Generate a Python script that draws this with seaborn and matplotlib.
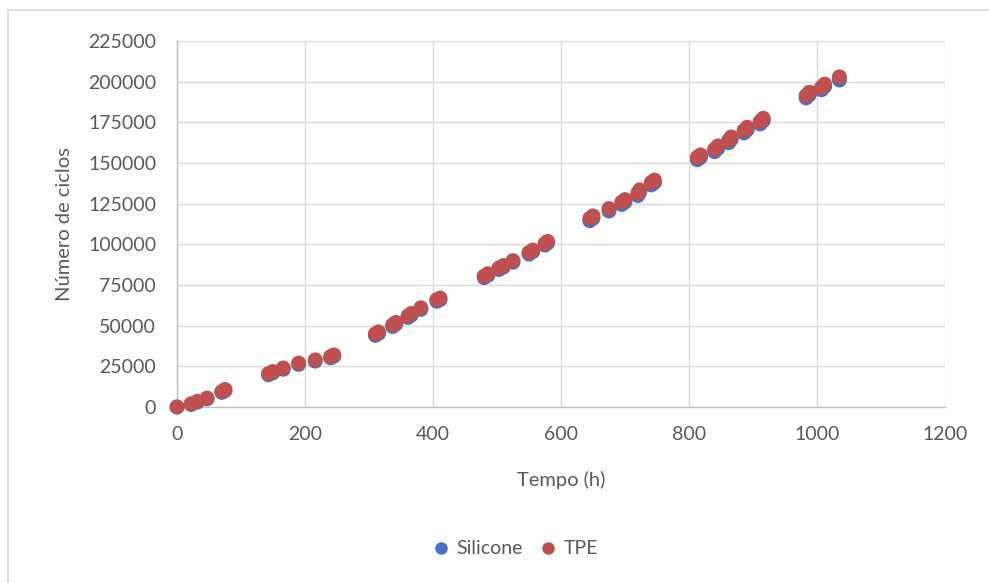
import matplotlib
matplotlib.use("Agg")
import matplotlib.pyplot as plt
import seaborn as sns
import pandas as pd
from matplotlib.patches import Rectangle
from matplotlib.lines import Line2D

tempo = [0, 22, 32, 47, 70, 75,
         143, 150, 166, 190, 216, 240, 245,
         310, 315, 337, 342, 361, 366, 381, 406, 411,
         480, 486, 503, 510, 525, 550, 556, 575, 579,
         645, 650, 675, 695, 700, 720, 723, 741, 746,
         813, 818, 840, 845, 862, 866, 886, 891, 911, 916,
         983, 988, 1007, 1012, 1035]
tpe = [0, 2000, 3500, 5500, 9500, 10800,
       20500, 21800, 24000, 27000, 29000, 31000, 32000,
       45000, 46200, 50500, 52000, 56000, 57500, 61000, 66000, 67000,
       80500, 82000, 85500, 87000, 90000, 95000, 96500, 100500, 101800,
       116000, 117500, 122000, 126000, 127500, 131500, 133500, 138000, 139500,
       153500, 155000, 158500, 160500, 164000, 166000, 170000, 172000, 175500, 177500,
       191500, 193500, 196500, 198500, 203000]
silicone = [0, 1500, 3000, 5000, 9000, 10000,
            19800, 21000, 23200, 26200, 28200, 30200, 31200,
            44000, 45200, 49500, 51000, 55000, 56500, 60000, 65000, 66000,
            79500, 81000, 84500, 86000, 89000, 94000, 95500, 99500, 100800,
            114500, 116000, 120500, 124500, 126000, 130000, 132000, 136500, 138000,
            152000, 153500, 157000, 159000, 162500, 164500, 168500, 170500, 174000, 176000,
            190000, 192000, 195000, 197000, 201000]
series_names = ["Silicone", "TPE"]
colors = {"Silicone": "#4472C4", "TPE": "#C0504D"}

df = pd.DataFrame({
    "Tempo (h)": tempo * 2,
    "Número de ciclos": silicone + tpe,
    "Série": ["Silicone"] * len(tempo) + ["TPE"] * len(tempo),
})

sns.set_theme(style="white")
plt.rcParams["font.family"] = ["Lato", "DejaVu Sans"]
txt = "#595959"

fig = plt.figure(figsize=(9.89, 5.83), dpi=100)
ax = fig.add_axes([177 / 989, 1 - 407 / 583, (945 - 177) / 989, (407 - 41) / 583])

sns.scatterplot(data=df, x="Tempo (h)", y="Número de ciclos", hue="Série",
                hue_order=series_names, palette=colors, s=115, linewidth=0,
                ax=ax, legend=False, zorder=3)

ax.set_xlim(0, 1200)
ax.set_ylim(0, 225000)
ax.set_xticks(range(0, 1201, 200))
ax.set_yticks(range(0, 225001, 25000))
ax.tick_params(axis="both", length=0, labelsize=14, colors=txt)
ax.tick_params(axis="y", pad=15)
ax.tick_params(axis="x", pad=14)
ax.grid(True, color="#D9D9D9", linewidth=1)
ax.set_axisbelow(True)
for s in ["top", "right"]:
    ax.spines[s].set_visible(False)
for s in ["left", "bottom"]:
    ax.spines[s].set_color("#BFBFBF")
    ax.spines[s].set_linewidth(1)
for c in ax.collections:
    c.set_clip_on(False)

ax.set_xlabel("Tempo (h)", fontsize=14.5, color=txt, labelpad=20)
ax.set_ylabel("Número de ciclos", fontsize=14.5, color=txt, labelpad=11)

handles = [Line2D([0], [0], marker="o", linestyle="", markersize=9,
                  markerfacecolor=colors[n], markeredgewidth=0) for n in series_names]
fig.legend(handles, series_names, loc="center", bbox_to_anchor=(510 / 989, 1 - 549 / 583),
           ncol=2, frameon=False, fontsize=14, labelcolor=txt, handletextpad=-0.2,
           columnspacing=0.3)

fig.patches.append(Rectangle((8 / 989, -0.1), 1.2, 1 - 10 / 583 + 0.1, transform=fig.transFigure,
                             fill=False, edgecolor="#D9D9D9", linewidth=1.2))

fig.savefig("out.png", dpi=100)
